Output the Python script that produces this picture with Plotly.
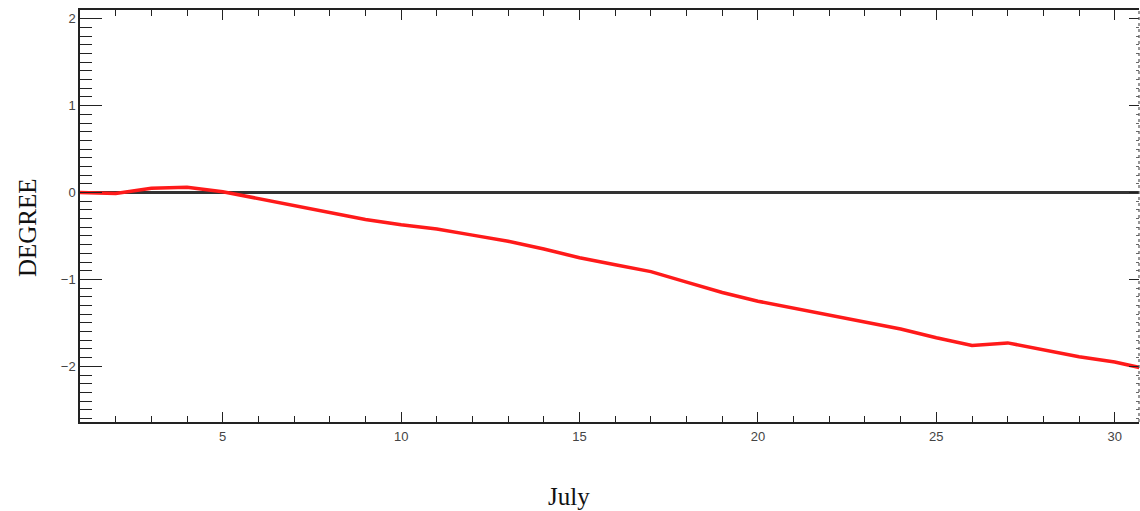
import plotly.graph_objects as go

# Data (day of July, degree)
days = [1, 2, 3, 4, 5, 6, 7, 8, 9, 10, 11, 12, 13, 14, 15, 16, 17, 18, 19, 20,
        21, 22, 23, 24, 25, 26, 27, 28, 29, 30, 31]
degree = [0.00, -0.01, 0.05, 0.06, 0.01, -0.07, -0.15, -0.22, -0.31, -0.37,
          -0.42, -0.49, -0.56, -0.65, -0.75, -0.83, -0.91, -1.03, -1.15, -1.25,
          -1.33, -1.41, -1.49, -1.57, -1.67, -1.76, -1.73, -1.81, -1.89, -1.95,
          -2.04]

x_range = [1, 30.68]
y_range = [-2.64, 2.10]
x_title = "July"
y_title = "DEGREE"

fig = go.Figure()
fig.add_trace(go.Scatter(x=days, y=degree, mode="lines",
                         line=dict(color="#ff1a1a", width=3.5), showlegend=False))
# invisible trace to anchor right-hand axis
fig.add_trace(go.Scatter(x=[days[0]], y=[degree[0]], yaxis="y2", mode="markers",
                         marker=dict(opacity=0), showlegend=False, hoverinfo="skip"))

tickfont = dict(family="Liberation Sans, Arial, sans-serif", size=13, color="#444")

fig.update_layout(
    width=1140, height=511,
    margin=dict(l=80, r=1, t=10, b=89),
    paper_bgcolor="white", plot_bgcolor="white",
    xaxis=dict(range=x_range, showgrid=False, zeroline=False,
               showline=True, linecolor="#222", linewidth=1.5, mirror="ticks",
               ticks="inside", ticklen=10, tickwidth=1.3, tickcolor="#222",
               tick0=0, dtick=5, tickfont=tickfont, ticklabelstandoff=2,
               minor=dict(ticks="inside", ticklen=6, tickwidth=1.2, tickcolor="#222", dtick=1, tick0=0, showgrid=False)),
    yaxis=dict(range=y_range, showgrid=False,
               zeroline=True, zerolinecolor="#333", zerolinewidth=2.5,
               showline=True, linecolor="#222", linewidth=1.5, mirror=False,
               ticks="inside", ticklen=22, tickwidth=1.3, tickcolor="#222",
               tick0=0, dtick=1, tickfont=tickfont,
               minor=dict(ticks="inside", ticklen=12, tickwidth=1.2, tickcolor="#222", dtick=0.1, tick0=0, showgrid=False)),
    yaxis2=dict(range=y_range, overlaying="y", side="right", showgrid=False, zeroline=False,
                showline=False, showticklabels=False,
                ticks="inside", ticklen=10, tickwidth=1.3, tickcolor="#222", tick0=0, dtick=1,
                minor=dict(ticks="inside", ticklen=3, tickwidth=1, tickcolor="#666", dtick=0.1, tick0=0, showgrid=False)),
    shapes=[dict(type="line", xref="paper", yref="paper", x0=1, x1=1, y0=0, y1=1,
                 line=dict(color="#555", width=1.2, dash="dot"))],
    annotations=[
        dict(text=y_title, xref="paper", yref="paper", x=-0.049, y=0.471,
             textangle=-90, showarrow=False, xanchor="center", yanchor="middle",
             font=dict(family="Liberation Serif, Times New Roman, serif", size=25, color="#111")),
        dict(text=x_title, xref="paper", yref="paper", x=0.4618, y=-0.182,
             showarrow=False, xanchor="center", yanchor="middle",
             font=dict(family="Liberation Serif, Times New Roman, serif", size=25, color="#111")),
    ],
)

fig.write_html("out.html", config={"displayModeBar": False},
               post_script="document.body.style.margin='0';document.body.style.overflow='hidden';")
